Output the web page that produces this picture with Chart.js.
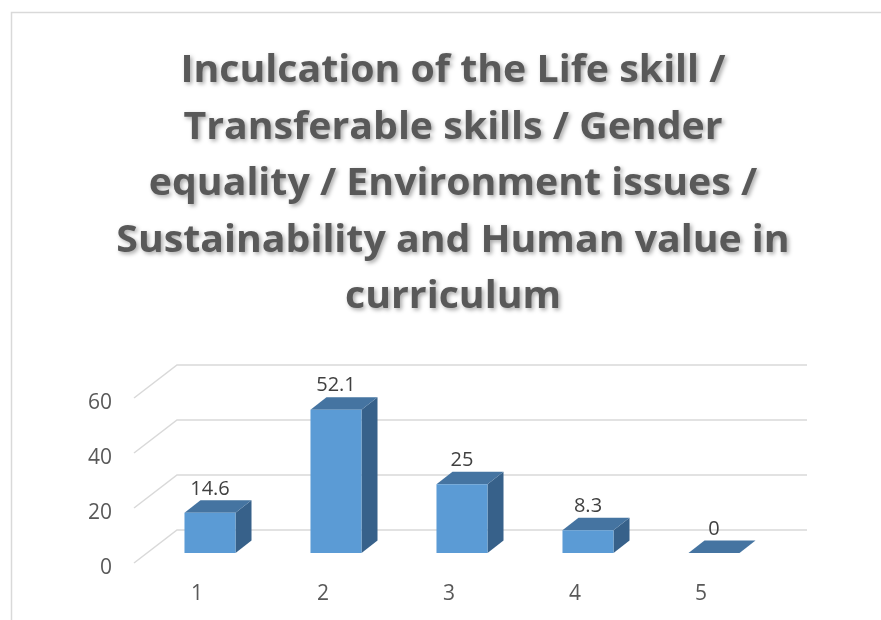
<!DOCTYPE html>
<html>
<head>
<meta charset="utf-8">
<script src="https://cdn.jsdelivr.net/npm/chart.js@4.4.1/dist/chart.umd.min.js"></script>
<style>
  html, body { margin: 0; padding: 0; background: #fff; }
  #chart { display: block; }
</style>
</head>
<body>
<canvas id="chart" width="881" height="620"></canvas>
<script>
// data
const categories = ['1', '2', '3', '4', '5'];
const values = [14.6, 52.1, 25, 8.3, 0];
const yTicks = [0, 20, 40, 60];
const titleLines = [
  'Inculcation of the Life skill /',
  'Transferable skills / Gender',
  'equality / Environment issues /',
  'Sustainability and Human value in',
  'curriculum'
];

// 3d look
const wallDX = 43, wallDY = -33;   // depth of the side wall
const barDX = 13, barDY = -10;     // where the bar fronts sit inside the depth
const capDX = 16, capDY = -12.5;   // depth of each bar

const frameAndTitle = {
  id: 'frameAndTitle',
  beforeDraw(chart) {
    const ctx = chart.ctx;
    ctx.save();
    ctx.fillStyle = '#fff';
    ctx.fillRect(0, 0, chart.width, chart.height);
    ctx.strokeStyle = '#d9d9d9';
    ctx.lineWidth = 1.5;
    ctx.strokeRect(11.5, 12.5, 1000, 1000);
    ctx.restore();
  },
  afterDraw(chart) {
    const ctx = chart.ctx;
    ctx.save();
    ctx.font = 'bold 38px "Open Sans"';
    // squeeze a little so the lines are as wide as the Calibri ones
    const sx = 545 / ctx.measureText(titleLines[0]).width;
    ctx.translate(453, 0);
    ctx.scale(sx, 1);
    ctx.textAlign = 'center';
    ctx.textBaseline = 'alphabetic';
    ctx.fillStyle = '#595959';
    ctx.shadowColor = 'rgba(0,0,0,0.35)';
    ctx.shadowBlur = 4;
    ctx.shadowOffsetX = 2;
    ctx.shadowOffsetY = 2;
    titleLines.forEach(function (line, i) {
      ctx.fillText(line, 0, 82 + i * 56.5);
    });
    ctx.restore();
  }
};

const bars3d = {
  id: 'bars3d',
  beforeDatasetsDraw(chart) {
    const ctx = chart.ctx;
    const area = chart.chartArea;
    const yScale = chart.scales.y;

    // side wall and back wall gridlines
    ctx.save();
    ctx.strokeStyle = '#d9d9d9';
    ctx.lineWidth = 1.5;
    yTicks.forEach(function (v) {
      const y = yScale.getPixelForValue(v);
      ctx.beginPath();
      ctx.moveTo(area.left, y);
      ctx.lineTo(area.left + wallDX, y + wallDY);
      ctx.lineTo(area.right + wallDX, y + wallDY);
      ctx.stroke();
    });
    ctx.restore();

    // top and side faces
    const meta = chart.getDatasetMeta(0);
    ctx.save();
    meta.data.forEach(function (bar) {
      const p = bar.getProps(['x', 'y', 'base', 'width'], true);
      const l = p.x - p.width / 2 + barDX;
      const r = p.x + p.width / 2 + barDX;
      const t = p.y + barDY;
      const b = p.base + barDY;
      ctx.fillStyle = '#37618a';
      ctx.beginPath();
      ctx.moveTo(r, t);
      ctx.lineTo(r + capDX, t + capDY);
      ctx.lineTo(r + capDX, b + capDY);
      ctx.lineTo(r, b);
      ctx.closePath();
      ctx.fill();
      ctx.fillStyle = '#4574a1';
      ctx.beginPath();
      ctx.moveTo(l, t);
      ctx.lineTo(r, t);
      ctx.lineTo(r + capDX, t + capDY);
      ctx.lineTo(l + capDX, t + capDY);
      ctx.closePath();
      ctx.fill();
    });
    ctx.restore();

    // front faces are drawn by chart.js, shifted into the depth
    ctx.save();
    ctx.translate(barDX, barDY);
  },
  afterDatasetsDraw(chart) {
    const ctx = chart.ctx;
    ctx.restore();

    const meta = chart.getDatasetMeta(0);
    ctx.save();
    ctx.font = '20px "Open Sans"';
    ctx.fillStyle = '#404040';
    ctx.textAlign = 'center';
    ctx.textBaseline = 'middle';
    meta.data.forEach(function (bar, i) {
      const p = bar.getProps(['x', 'y'], true);
      ctx.fillText(String(values[i]), p.x + barDX, p.y + barDY - 24);
    });
    ctx.restore();
  }
};

const ctx = document.getElementById('chart').getContext('2d');

new Chart(ctx, {
  type: 'bar',
  data: {
    labels: categories,
    datasets: [{
      data: values,
      backgroundColor: '#5b9bd5',
      borderWidth: 0,
      categoryPercentage: 1,
      barPercentage: 0.405
    }]
  },
  options: {
    responsive: false,
    animation: false,
    layout: { padding: { top: 398, right: 117, left: 0, bottom: 0 } },
    plugins: {
      legend: { display: false },
      tooltip: { enabled: false },
      title: { display: false }
    },
    scales: {
      x: {
        grid: { display: false, drawTicks: false },
        border: { display: false },
        ticks: {
          padding: 18,
          color: '#595959',
          font: { family: 'Open Sans', size: 21 }
        },
        afterFit: function (scale) { scale.height = 57; }
      },
      y: {
        min: 0,
        max: 60,
        grid: { display: false, drawTicks: false },
        border: { display: false },
        ticks: {
          stepSize: 20,
          padding: 22,
          labelOffset: 5,
          color: '#595959',
          font: { family: 'Open Sans', size: 21 }
        },
        afterFit: function (scale) { scale.width = 134; }
      }
    }
  },
  plugins: [frameAndTitle, bars3d]
});
</script>
</body>
</html>
